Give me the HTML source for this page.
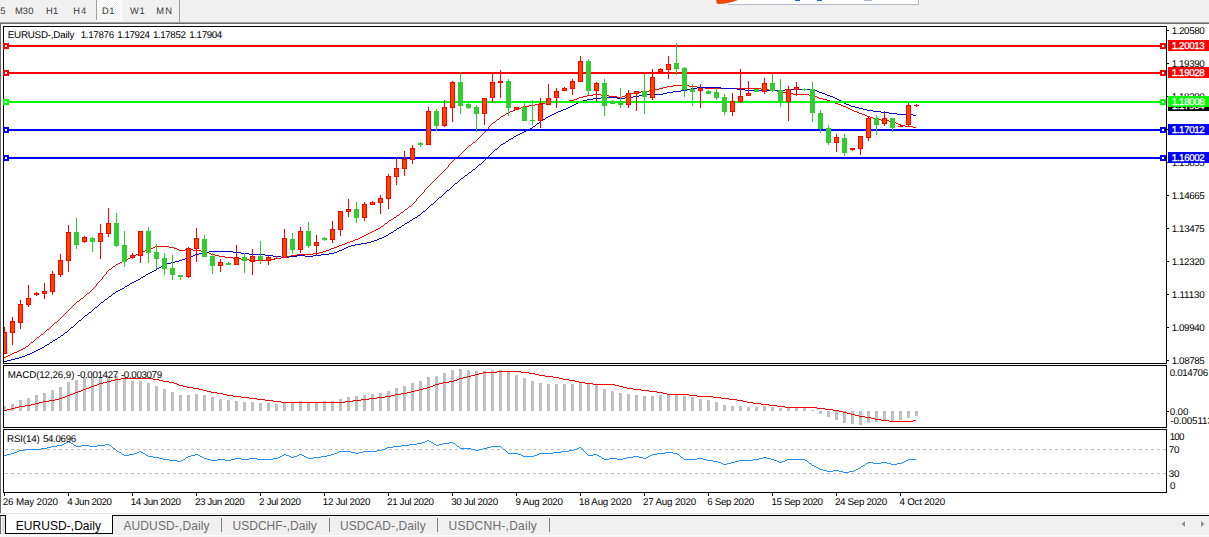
<!DOCTYPE html>
<html><head><meta charset="utf-8"><title>EURUSD Daily</title>
<style>
html,body{margin:0;padding:0;background:#f0f0f0;}
body{width:1209px;height:537px;overflow:hidden;position:relative;}
svg{position:absolute;left:0;top:0;display:block;}
text{font-family:"Liberation Sans",sans-serif;}
text.g{text-rendering:geometricPrecision;}
</style></head><body>
<svg width="1209" height="537" viewBox="0 0 1209 537" shape-rendering="crispEdges">
<rect x="0" y="0" width="1209" height="537" fill="#f0f0f0"/>
<rect x="0" y="22" width="1209" height="1" fill="#a0a0a0"/>
<rect x="0" y="23" width="1209" height="1" fill="#696969"/>
<rect x="1" y="24" width="1208" height="489" fill="#ffffff"/>
<rect x="0" y="23" width="1" height="490" fill="#696969"/>
<rect x="728" y="0" width="190" height="4" fill="#ffffff"/>
<rect x="728" y="4" width="191" height="1" fill="#b4bccc"/>
<rect x="918" y="0" width="1" height="5" fill="#b4bccc"/>
<path d="M716 0 L738 0 Q728 4 718 4 Q716 3 716 0 Z" fill="#f0480c" shape-rendering="auto"/>
<rect x="795" y="0" width="5" height="1" fill="#1e6fd6"/>
<rect x="817" y="0" width="5" height="1" fill="#1e6fd6"/>
<rect x="864" y="0" width="8" height="1" fill="#a8b8d8"/>
<pattern id="ck" x="97" y="0" width="2" height="2" patternUnits="userSpaceOnUse"><rect x="0" y="0" width="2" height="2" fill="#f0f0f0"/><rect x="0" y="0" width="1" height="1" fill="#fff"/><rect x="1" y="1" width="1" height="1" fill="#fff"/></pattern>
<rect x="96" y="0" width="1" height="20" fill="#a0a0a0"/>
<rect x="97" y="0" width="24" height="20" fill="url(#ck)"/>
<rect x="121" y="0" width="1" height="21" fill="#ffffff"/>
<rect x="96" y="20" width="26" height="1" fill="#ffffff"/>
<rect x="179" y="0" width="1" height="22" fill="#a0a0a0"/>
<clipPath id="cm"><rect x="4" y="27" width="1162" height="336"/></clipPath>
<g clip-path="url(#cm)">
<path d="M673 85h16v1h-16zM667 86h6v1h-6zM689 86h8v1h-8zM663 87h4v1h-4zM697 87h8v1h-8zM659 88h4v1h-4zM705 88h56v1h-56zM655 89h4v1h-4zM761 89h8v1h-8zM649 90h6v1h-6zM769 90h8v1h-8zM641 91h8v1h-8zM777 91h6v1h-6zM635 92h6v1h-6zM783 92h4v1h-4zM631 93h4v1h-4zM787 93h6v1h-6zM593 94h8v1h-8zM627 94h4v1h-4zM793 94h16v1h-16zM587 95h6v1h-6zM601 95h8v1h-8zM625 95h2v1h-2zM809 95h5v1h-5zM583 96h4v1h-4zM609 96h8v1h-8zM622 96h3v1h-3zM814 96h3v1h-3zM579 97h4v1h-4zM617 97h5v1h-5zM817 97h2v1h-2zM577 98h2v1h-2zM819 98h4v1h-4zM574 99h3v1h-3zM823 99h4v1h-4zM569 100h5v1h-5zM827 100h3v1h-3zM553 101h16v1h-16zM830 101h3v1h-3zM545 102h8v1h-8zM833 102h2v1h-2zM539 103h6v1h-6zM835 103h3v1h-3zM535 104h4v1h-4zM838 104h3v1h-3zM529 105h6v1h-6zM841 105h2v1h-2zM523 106h6v1h-6zM843 106h3v1h-3zM521 107h2v1h-2zM846 107h2v1h-2zM518 108h3v1h-3zM848 108h2v1h-2zM515 109h3v1h-3zM850 109h2v1h-2zM513 110h2v1h-2zM852 110h2v1h-2zM510 111h3v1h-3zM854 111h3v1h-3zM508 112h2v1h-2zM857 112h2v1h-2zM506 113h2v1h-2zM859 113h3v1h-3zM505 114h1v1h-1zM862 114h3v1h-3zM503 115h2v1h-2zM865 115h2v1h-2zM501 116h2v1h-2zM867 116h3v1h-3zM500 117h1v1h-1zM870 117h3v1h-3zM499 118h1v1h-1zM873 118h2v1h-2zM497 119h2v1h-2zM875 119h6v1h-6zM496 120h1v1h-1zM881 120h8v1h-8zM495 121h1v1h-1zM889 121h5v1h-5zM493 122h2v1h-2zM894 122h2v1h-2zM492 123h1v1h-1zM896 123h2v1h-2zM491 124h1v1h-1zM898 124h2v1h-2zM490 125h1v1h-1zM900 125h5v1h-5zM489 126h1v1h-1zM905 126h8v1h-8zM488 127h1v1h-1zM913 127h3v1h-3zM488 128h1v1h-1zM487 129h1v1h-1zM486 130h1v1h-1zM485 131h1v1h-1zM484 132h1v1h-1zM483 133h1v1h-1zM482 134h1v1h-1zM481 135h1v1h-1zM480 136h1v1h-1zM479 137h1v1h-1zM478 138h1v1h-1zM477 139h1v1h-1zM476 140h1v1h-1zM475 141h1v1h-1zM473 142h2v1h-2zM472 143h1v1h-1zM471 144h1v1h-1zM469 145h2v1h-2zM468 146h1v1h-1zM467 147h1v1h-1zM466 148h1v1h-1zM465 149h1v1h-1zM464 150h1v1h-1zM463 151h1v1h-1zM462 152h1v1h-1zM461 153h1v1h-1zM460 154h1v1h-1zM459 155h1v1h-1zM458 156h1v1h-1zM457 157h1v1h-1zM455 158h2v1h-2zM454 159h1v1h-1zM453 160h1v1h-1zM452 161h1v1h-1zM451 162h1v1h-1zM450 163h1v1h-1zM449 164h1v1h-1zM448 165h1v1h-1zM448 166h1v1h-1zM447 167h1v1h-1zM446 168h1v1h-1zM445 169h1v1h-1zM444 170h1v1h-1zM443 171h1v1h-1zM442 172h1v1h-1zM441 173h1v1h-1zM440 174h1v1h-1zM439 175h1v1h-1zM438 176h1v1h-1zM437 177h1v1h-1zM436 178h1v1h-1zM435 179h1v1h-1zM434 180h1v1h-1zM433 181h1v1h-1zM432 182h1v1h-1zM431 183h1v1h-1zM430 184h1v1h-1zM429 185h1v1h-1zM428 186h1v1h-1zM427 187h1v1h-1zM426 188h1v1h-1zM425 189h1v1h-1zM424 190h1v1h-1zM424 191h1v1h-1zM423 192h1v1h-1zM422 193h1v1h-1zM421 194h1v1h-1zM420 195h1v1h-1zM419 196h1v1h-1zM418 197h1v1h-1zM417 198h1v1h-1zM416 199h1v1h-1zM416 200h1v1h-1zM415 201h1v1h-1zM414 202h1v1h-1zM413 203h1v1h-1zM412 204h1v1h-1zM411 205h1v1h-1zM409 206h2v1h-2zM408 207h1v1h-1zM407 208h1v1h-1zM405 209h2v1h-2zM404 210h1v1h-1zM403 211h1v1h-1zM401 212h2v1h-2zM400 213h1v1h-1zM399 214h1v1h-1zM397 215h2v1h-2zM396 216h1v1h-1zM394 217h2v1h-2zM393 218h1v1h-1zM391 219h2v1h-2zM389 220h2v1h-2zM388 221h1v1h-1zM387 222h1v1h-1zM385 223h2v1h-2zM384 224h1v1h-1zM383 225h1v1h-1zM381 226h2v1h-2zM380 227h1v1h-1zM378 228h2v1h-2zM376 229h2v1h-2zM374 230h2v1h-2zM372 231h2v1h-2zM370 232h2v1h-2zM368 233h2v1h-2zM366 234h2v1h-2zM364 235h2v1h-2zM362 236h2v1h-2zM360 237h2v1h-2zM358 238h2v1h-2zM355 239h3v1h-3zM353 240h2v1h-2zM350 241h3v1h-3zM347 242h3v1h-3zM345 243h2v1h-2zM342 244h3v1h-3zM339 245h3v1h-3zM155 246h14v1h-14zM337 246h2v1h-2zM153 247h2v1h-2zM169 247h5v1h-5zM334 247h3v1h-3zM150 248h3v1h-3zM174 248h3v1h-3zM331 248h3v1h-3zM147 249h3v1h-3zM177 249h2v1h-2zM185 249h8v1h-8zM329 249h2v1h-2zM145 250h2v1h-2zM179 250h6v1h-6zM193 250h8v1h-8zM326 250h3v1h-3zM142 251h3v1h-3zM201 251h5v1h-5zM323 251h3v1h-3zM140 252h2v1h-2zM206 252h3v1h-3zM319 252h4v1h-4zM138 253h2v1h-2zM209 253h2v1h-2zM313 253h6v1h-6zM136 254h2v1h-2zM211 254h4v1h-4zM297 254h16v1h-16zM134 255h2v1h-2zM215 255h4v1h-4zM291 255h6v1h-6zM132 256h2v1h-2zM219 256h6v1h-6zM287 256h4v1h-4zM130 257h2v1h-2zM225 257h8v1h-8zM281 257h6v1h-6zM128 258h2v1h-2zM233 258h8v1h-8zM275 258h6v1h-6zM126 259h2v1h-2zM241 259h8v1h-8zM271 259h4v1h-4zM124 260h2v1h-2zM249 260h22v1h-22zM122 261h2v1h-2zM120 262h2v1h-2zM118 263h2v1h-2zM116 264h2v1h-2zM115 265h1v1h-1zM113 266h2v1h-2zM112 267h1v1h-1zM111 268h1v1h-1zM109 269h2v1h-2zM108 270h1v1h-1zM107 271h1v1h-1zM106 272h1v1h-1zM106 273h1v1h-1zM105 274h1v1h-1zM104 275h1v1h-1zM103 276h1v1h-1zM102 277h1v1h-1zM102 278h1v1h-1zM101 279h1v1h-1zM100 280h1v1h-1zM99 281h1v1h-1zM98 282h1v1h-1zM97 283h1v1h-1zM96 284h1v1h-1zM96 285h1v1h-1zM95 286h1v1h-1zM94 287h1v1h-1zM93 288h1v1h-1zM92 289h1v1h-1zM91 290h1v1h-1zM90 291h1v1h-1zM89 292h1v1h-1zM87 293h2v1h-2zM86 294h1v1h-1zM85 295h1v1h-1zM84 296h1v1h-1zM83 297h1v1h-1zM81 298h2v1h-2zM80 299h1v1h-1zM79 300h1v1h-1zM77 301h2v1h-2zM76 302h1v1h-1zM75 303h1v1h-1zM74 304h1v1h-1zM73 305h1v1h-1zM72 306h1v1h-1zM71 307h1v1h-1zM70 308h1v1h-1zM69 309h1v1h-1zM68 310h1v1h-1zM67 311h1v1h-1zM66 312h1v1h-1zM65 313h1v1h-1zM64 314h1v1h-1zM63 315h1v1h-1zM62 316h1v1h-1zM61 317h1v1h-1zM60 318h1v1h-1zM59 319h1v1h-1zM58 320h1v1h-1zM57 321h1v1h-1zM55 322h2v1h-2zM54 323h1v1h-1zM53 324h1v1h-1zM52 325h1v1h-1zM51 326h1v1h-1zM50 327h1v1h-1zM49 328h1v1h-1zM47 329h2v1h-2zM46 330h1v1h-1zM45 331h1v1h-1zM44 332h1v1h-1zM43 333h1v1h-1zM41 334h2v1h-2zM40 335h1v1h-1zM39 336h1v1h-1zM37 337h2v1h-2zM36 338h1v1h-1zM35 339h1v1h-1zM34 340h1v1h-1zM33 341h1v1h-1zM31 342h2v1h-2zM30 343h1v1h-1zM29 344h1v1h-1zM28 345h1v1h-1zM26 346h2v1h-2zM25 347h1v1h-1zM23 348h2v1h-2zM21 349h2v1h-2zM19 350h2v1h-2zM17 351h2v1h-2zM14 352h3v1h-3zM12 353h2v1h-2zM10 354h2v1h-2zM8 355h2v1h-2zM6 356h2v1h-2zM4 357h2v1h-2z" fill="#ff0000" />
<path d="M697 87h24v1h-24zM691 88h6v1h-6zM721 88h16v1h-16zM687 89h4v1h-4zM737 89h8v1h-8zM785 89h29v1h-29zM681 90h6v1h-6zM745 90h40v1h-40zM814 90h3v1h-3zM673 91h8v1h-8zM817 91h2v1h-2zM667 92h6v1h-6zM819 92h3v1h-3zM663 93h4v1h-4zM822 93h3v1h-3zM643 94h20v1h-20zM825 94h2v1h-2zM639 95h4v1h-4zM827 95h3v1h-3zM633 96h6v1h-6zM830 96h3v1h-3zM601 97h16v1h-16zM625 97h8v1h-8zM833 97h2v1h-2zM593 98h8v1h-8zM617 98h8v1h-8zM835 98h2v1h-2zM587 99h6v1h-6zM837 99h2v1h-2zM583 100h4v1h-4zM839 100h2v1h-2zM580 101h3v1h-3zM841 101h1v1h-1zM578 102h2v1h-2zM842 102h2v1h-2zM576 103h2v1h-2zM844 103h2v1h-2zM574 104h2v1h-2zM846 104h3v1h-3zM572 105h2v1h-2zM849 105h2v1h-2zM570 106h2v1h-2zM851 106h4v1h-4zM568 107h2v1h-2zM855 107h4v1h-4zM566 108h2v1h-2zM859 108h4v1h-4zM563 109h3v1h-3zM863 109h4v1h-4zM561 110h2v1h-2zM867 110h6v1h-6zM558 111h3v1h-3zM873 111h8v1h-8zM556 112h2v1h-2zM881 112h8v1h-8zM554 113h2v1h-2zM889 113h8v1h-8zM552 114h2v1h-2zM897 114h16v1h-16zM550 115h2v1h-2zM913 115h3v1h-3zM548 116h2v1h-2zM546 117h2v1h-2zM545 118h1v1h-1zM543 119h2v1h-2zM541 120h2v1h-2zM540 121h1v1h-1zM539 122h1v1h-1zM537 123h2v1h-2zM536 124h1v1h-1zM535 125h1v1h-1zM533 126h2v1h-2zM532 127h1v1h-1zM530 128h2v1h-2zM528 129h2v1h-2zM526 130h2v1h-2zM524 131h2v1h-2zM522 132h2v1h-2zM520 133h2v1h-2zM518 134h2v1h-2zM516 135h2v1h-2zM514 136h2v1h-2zM513 137h1v1h-1zM511 138h2v1h-2zM509 139h2v1h-2zM508 140h1v1h-1zM506 141h2v1h-2zM505 142h1v1h-1zM503 143h2v1h-2zM501 144h2v1h-2zM500 145h1v1h-1zM499 146h1v1h-1zM498 147h1v1h-1zM497 148h1v1h-1zM495 149h2v1h-2zM494 150h1v1h-1zM493 151h1v1h-1zM492 152h1v1h-1zM491 153h1v1h-1zM490 154h1v1h-1zM489 155h1v1h-1zM488 156h1v1h-1zM487 157h1v1h-1zM486 158h1v1h-1zM485 159h1v1h-1zM484 160h1v1h-1zM483 161h1v1h-1zM482 162h1v1h-1zM481 163h1v1h-1zM479 164h2v1h-2zM478 165h1v1h-1zM477 166h1v1h-1zM476 167h1v1h-1zM475 168h1v1h-1zM473 169h2v1h-2zM472 170h1v1h-1zM471 171h1v1h-1zM469 172h2v1h-2zM468 173h1v1h-1zM467 174h1v1h-1zM465 175h2v1h-2zM464 176h1v1h-1zM463 177h1v1h-1zM461 178h2v1h-2zM460 179h1v1h-1zM459 180h1v1h-1zM458 181h1v1h-1zM457 182h1v1h-1zM455 183h2v1h-2zM454 184h1v1h-1zM453 185h1v1h-1zM452 186h1v1h-1zM451 187h1v1h-1zM450 188h1v1h-1zM449 189h1v1h-1zM447 190h2v1h-2zM446 191h1v1h-1zM445 192h1v1h-1zM444 193h1v1h-1zM443 194h1v1h-1zM442 195h1v1h-1zM441 196h1v1h-1zM439 197h2v1h-2zM438 198h1v1h-1zM437 199h1v1h-1zM436 200h1v1h-1zM435 201h1v1h-1zM434 202h1v1h-1zM433 203h1v1h-1zM431 204h2v1h-2zM430 205h1v1h-1zM429 206h1v1h-1zM428 207h1v1h-1zM427 208h1v1h-1zM426 209h1v1h-1zM425 210h1v1h-1zM423 211h2v1h-2zM422 212h1v1h-1zM421 213h1v1h-1zM420 214h1v1h-1zM418 215h2v1h-2zM417 216h1v1h-1zM415 217h2v1h-2zM413 218h2v1h-2zM412 219h1v1h-1zM410 220h2v1h-2zM409 221h1v1h-1zM407 222h2v1h-2zM405 223h2v1h-2zM404 224h1v1h-1zM402 225h2v1h-2zM401 226h1v1h-1zM399 227h2v1h-2zM397 228h2v1h-2zM396 229h1v1h-1zM394 230h2v1h-2zM393 231h1v1h-1zM391 232h2v1h-2zM389 233h2v1h-2zM388 234h1v1h-1zM386 235h2v1h-2zM384 236h2v1h-2zM382 237h2v1h-2zM379 238h3v1h-3zM377 239h2v1h-2zM374 240h3v1h-3zM371 241h3v1h-3zM367 242h4v1h-4zM361 243h6v1h-6zM355 244h6v1h-6zM351 245h4v1h-4zM348 246h3v1h-3zM346 247h2v1h-2zM344 248h2v1h-2zM342 249h2v1h-2zM339 250h3v1h-3zM209 251h24v1h-24zM337 251h2v1h-2zM203 252h6v1h-6zM233 252h8v1h-8zM334 252h3v1h-3zM199 253h4v1h-4zM241 253h8v1h-8zM329 253h5v1h-5zM195 254h4v1h-4zM249 254h16v1h-16zM321 254h8v1h-8zM193 255h2v1h-2zM265 255h8v1h-8zM297 255h8v1h-8zM313 255h8v1h-8zM190 256h3v1h-3zM273 256h8v1h-8zM289 256h8v1h-8zM305 256h8v1h-8zM187 257h3v1h-3zM281 257h8v1h-8zM185 258h2v1h-2zM182 259h3v1h-3zM179 260h3v1h-3zM175 261h4v1h-4zM171 262h4v1h-4zM167 263h4v1h-4zM164 264h3v1h-3zM162 265h2v1h-2zM161 266h1v1h-1zM159 267h2v1h-2zM157 268h2v1h-2zM156 269h1v1h-1zM154 270h2v1h-2zM152 271h2v1h-2zM150 272h2v1h-2zM148 273h2v1h-2zM146 274h2v1h-2zM145 275h1v1h-1zM143 276h2v1h-2zM141 277h2v1h-2zM140 278h1v1h-1zM138 279h2v1h-2zM136 280h2v1h-2zM134 281h2v1h-2zM132 282h2v1h-2zM130 283h2v1h-2zM129 284h1v1h-1zM127 285h2v1h-2zM125 286h2v1h-2zM124 287h1v1h-1zM122 288h2v1h-2zM120 289h2v1h-2zM118 290h2v1h-2zM116 291h2v1h-2zM115 292h1v1h-1zM113 293h2v1h-2zM112 294h1v1h-1zM111 295h1v1h-1zM109 296h2v1h-2zM108 297h1v1h-1zM107 298h1v1h-1zM105 299h2v1h-2zM104 300h1v1h-1zM103 301h1v1h-1zM101 302h2v1h-2zM100 303h1v1h-1zM99 304h1v1h-1zM98 305h1v1h-1zM97 306h1v1h-1zM95 307h2v1h-2zM94 308h1v1h-1zM93 309h1v1h-1zM92 310h1v1h-1zM91 311h1v1h-1zM89 312h2v1h-2zM88 313h1v1h-1zM87 314h1v1h-1zM85 315h2v1h-2zM84 316h1v1h-1zM83 317h1v1h-1zM82 318h1v1h-1zM81 319h1v1h-1zM79 320h2v1h-2zM78 321h1v1h-1zM77 322h1v1h-1zM76 323h1v1h-1zM75 324h1v1h-1zM74 325h1v1h-1zM73 326h1v1h-1zM71 327h2v1h-2zM70 328h1v1h-1zM69 329h1v1h-1zM68 330h1v1h-1zM67 331h1v1h-1zM65 332h2v1h-2zM64 333h1v1h-1zM63 334h1v1h-1zM61 335h2v1h-2zM60 336h1v1h-1zM58 337h2v1h-2zM57 338h1v1h-1zM55 339h2v1h-2zM53 340h2v1h-2zM52 341h1v1h-1zM50 342h2v1h-2zM49 343h1v1h-1zM47 344h2v1h-2zM45 345h2v1h-2zM44 346h1v1h-1zM42 347h2v1h-2zM40 348h2v1h-2zM38 349h2v1h-2zM36 350h2v1h-2zM34 351h2v1h-2zM32 352h2v1h-2zM30 353h2v1h-2zM27 354h3v1h-3zM25 355h2v1h-2zM22 356h3v1h-3zM19 357h3v1h-3zM15 358h4v1h-4zM11 359h4v1h-4zM7 360h4v1h-4zM4 361h3v1h-3z" fill="#0000cd" />
<rect x="3" y="45" width="1163" height="2" fill="#ff0000"/>
<rect x="3" y="72" width="1163" height="2" fill="#ff0000"/>
<rect x="3" y="101" width="1163" height="2" fill="#00ff00"/>
<rect x="3" y="129" width="1163" height="2" fill="#0000ff"/>
<rect x="3" y="157" width="1163" height="2" fill="#0000ff"/>
<rect x="4" y="327" width="1" height="27" fill="#ff0000"/>
<rect x="2" y="332" width="5" height="22" fill="#ff0000"/>
<rect x="3" y="333" width="3" height="20" fill="#ff4500"/>
<rect x="12" y="317" width="1" height="28" fill="#ff0000"/>
<rect x="10" y="321" width="5" height="12" fill="#ff0000"/>
<rect x="11" y="322" width="3" height="10" fill="#ff4500"/>
<rect x="20" y="300" width="1" height="29" fill="#ff0000"/>
<rect x="18" y="304" width="5" height="19" fill="#ff0000"/>
<rect x="19" y="305" width="3" height="17" fill="#ff4500"/>
<rect x="28" y="285" width="1" height="22" fill="#ff0000"/>
<rect x="26" y="298" width="5" height="7" fill="#ff0000"/>
<rect x="27" y="299" width="3" height="5" fill="#ff4500"/>
<rect x="36" y="292" width="1" height="4" fill="#ff0000"/>
<rect x="34" y="293" width="5" height="2" fill="#ff0000"/>
<rect x="44" y="283" width="1" height="16" fill="#ff0000"/>
<rect x="42" y="291" width="5" height="3" fill="#ff0000"/>
<rect x="43" y="292" width="3" height="1" fill="#ff4500"/>
<rect x="52" y="271" width="1" height="24" fill="#ff0000"/>
<rect x="50" y="274" width="5" height="18" fill="#ff0000"/>
<rect x="51" y="275" width="3" height="16" fill="#ff4500"/>
<rect x="60" y="254" width="1" height="23" fill="#ff0000"/>
<rect x="58" y="260" width="5" height="15" fill="#ff0000"/>
<rect x="59" y="261" width="3" height="13" fill="#ff4500"/>
<rect x="68" y="225" width="1" height="47" fill="#ff0000"/>
<rect x="66" y="232" width="5" height="29" fill="#ff0000"/>
<rect x="67" y="233" width="3" height="27" fill="#ff4500"/>
<rect x="76" y="218" width="1" height="31" fill="#32cd32"/>
<rect x="74" y="232" width="5" height="13" fill="#32cd32"/>
<rect x="75" y="233" width="3" height="11" fill="#32cd32"/>
<rect x="84" y="236" width="1" height="7" fill="#ff0000"/>
<rect x="82" y="237" width="5" height="5" fill="#ff0000"/>
<rect x="83" y="238" width="3" height="3" fill="#ff4500"/>
<rect x="92" y="237" width="1" height="15" fill="#32cd32"/>
<rect x="90" y="238" width="5" height="4" fill="#32cd32"/>
<rect x="91" y="239" width="3" height="2" fill="#32cd32"/>
<rect x="100" y="224" width="1" height="35" fill="#ff0000"/>
<rect x="98" y="233" width="5" height="9" fill="#ff0000"/>
<rect x="99" y="234" width="3" height="7" fill="#ff4500"/>
<rect x="108" y="208" width="1" height="29" fill="#ff0000"/>
<rect x="106" y="223" width="5" height="11" fill="#ff0000"/>
<rect x="107" y="224" width="3" height="9" fill="#ff4500"/>
<rect x="116" y="213" width="1" height="34" fill="#32cd32"/>
<rect x="114" y="223" width="5" height="23" fill="#32cd32"/>
<rect x="115" y="224" width="3" height="21" fill="#32cd32"/>
<rect x="124" y="231" width="1" height="36" fill="#32cd32"/>
<rect x="122" y="245" width="5" height="17" fill="#32cd32"/>
<rect x="123" y="246" width="3" height="15" fill="#32cd32"/>
<rect x="132" y="253" width="1" height="6" fill="#ff0000"/>
<rect x="130" y="255" width="5" height="3" fill="#ff0000"/>
<rect x="131" y="256" width="3" height="1" fill="#ff4500"/>
<rect x="140" y="231" width="1" height="32" fill="#ff0000"/>
<rect x="138" y="231" width="5" height="25" fill="#ff0000"/>
<rect x="139" y="232" width="3" height="23" fill="#ff4500"/>
<rect x="148" y="227" width="1" height="36" fill="#32cd32"/>
<rect x="146" y="231" width="5" height="22" fill="#32cd32"/>
<rect x="147" y="232" width="3" height="20" fill="#32cd32"/>
<rect x="156" y="244" width="1" height="25" fill="#32cd32"/>
<rect x="154" y="252" width="5" height="7" fill="#32cd32"/>
<rect x="155" y="253" width="3" height="5" fill="#32cd32"/>
<rect x="164" y="253" width="1" height="22" fill="#32cd32"/>
<rect x="162" y="258" width="5" height="11" fill="#32cd32"/>
<rect x="163" y="259" width="3" height="9" fill="#32cd32"/>
<rect x="172" y="255" width="1" height="25" fill="#32cd32"/>
<rect x="170" y="268" width="5" height="7" fill="#32cd32"/>
<rect x="171" y="269" width="3" height="5" fill="#32cd32"/>
<rect x="180" y="275" width="1" height="5" fill="#32cd32"/>
<rect x="178" y="275" width="5" height="2" fill="#32cd32"/>
<rect x="188" y="247" width="1" height="31" fill="#ff0000"/>
<rect x="186" y="248" width="5" height="29" fill="#ff0000"/>
<rect x="187" y="249" width="3" height="27" fill="#ff4500"/>
<rect x="196" y="228" width="1" height="34" fill="#ff0000"/>
<rect x="194" y="238" width="5" height="11" fill="#ff0000"/>
<rect x="195" y="239" width="3" height="9" fill="#ff4500"/>
<rect x="204" y="235" width="1" height="22" fill="#32cd32"/>
<rect x="202" y="239" width="5" height="18" fill="#32cd32"/>
<rect x="203" y="240" width="3" height="16" fill="#32cd32"/>
<rect x="212" y="253" width="1" height="21" fill="#32cd32"/>
<rect x="210" y="256" width="5" height="10" fill="#32cd32"/>
<rect x="211" y="257" width="3" height="8" fill="#32cd32"/>
<rect x="220" y="259" width="1" height="13" fill="#ff0000"/>
<rect x="218" y="262" width="5" height="4" fill="#ff0000"/>
<rect x="219" y="263" width="3" height="2" fill="#ff4500"/>
<rect x="228" y="262" width="1" height="3" fill="#32cd32"/>
<rect x="226" y="263" width="5" height="2" fill="#32cd32"/>
<rect x="236" y="245" width="1" height="20" fill="#ff0000"/>
<rect x="234" y="257" width="5" height="8" fill="#ff0000"/>
<rect x="235" y="258" width="3" height="6" fill="#ff4500"/>
<rect x="244" y="253" width="1" height="20" fill="#32cd32"/>
<rect x="242" y="257" width="5" height="4" fill="#32cd32"/>
<rect x="243" y="258" width="3" height="2" fill="#32cd32"/>
<rect x="252" y="249" width="1" height="26" fill="#ff0000"/>
<rect x="250" y="256" width="5" height="6" fill="#ff0000"/>
<rect x="251" y="257" width="3" height="4" fill="#ff4500"/>
<rect x="260" y="241" width="1" height="23" fill="#32cd32"/>
<rect x="258" y="256" width="5" height="4" fill="#32cd32"/>
<rect x="259" y="257" width="3" height="2" fill="#32cd32"/>
<rect x="268" y="256" width="1" height="9" fill="#ff0000"/>
<rect x="266" y="257" width="5" height="4" fill="#ff0000"/>
<rect x="267" y="258" width="3" height="2" fill="#ff4500"/>
<rect x="276" y="256" width="1" height="3" fill="#ff0000"/>
<rect x="274" y="258" width="5" height="1" fill="#ff0000"/>
<rect x="284" y="229" width="1" height="29" fill="#ff0000"/>
<rect x="282" y="238" width="5" height="20" fill="#ff0000"/>
<rect x="283" y="239" width="3" height="18" fill="#ff4500"/>
<rect x="292" y="233" width="1" height="21" fill="#32cd32"/>
<rect x="290" y="239" width="5" height="11" fill="#32cd32"/>
<rect x="291" y="240" width="3" height="9" fill="#32cd32"/>
<rect x="300" y="227" width="1" height="26" fill="#ff0000"/>
<rect x="298" y="231" width="5" height="19" fill="#ff0000"/>
<rect x="299" y="232" width="3" height="17" fill="#ff4500"/>
<rect x="308" y="222" width="1" height="26" fill="#32cd32"/>
<rect x="306" y="231" width="5" height="15" fill="#32cd32"/>
<rect x="307" y="232" width="3" height="13" fill="#32cd32"/>
<rect x="316" y="235" width="1" height="21" fill="#ff0000"/>
<rect x="314" y="242" width="5" height="4" fill="#ff0000"/>
<rect x="315" y="243" width="3" height="2" fill="#ff4500"/>
<rect x="324" y="237" width="1" height="4" fill="#32cd32"/>
<rect x="322" y="238" width="5" height="2" fill="#32cd32"/>
<rect x="332" y="221" width="1" height="22" fill="#ff0000"/>
<rect x="330" y="229" width="5" height="11" fill="#ff0000"/>
<rect x="331" y="230" width="3" height="9" fill="#ff4500"/>
<rect x="340" y="211" width="1" height="25" fill="#ff0000"/>
<rect x="338" y="211" width="5" height="19" fill="#ff0000"/>
<rect x="339" y="212" width="3" height="17" fill="#ff4500"/>
<rect x="348" y="199" width="1" height="18" fill="#ff0000"/>
<rect x="346" y="209" width="5" height="3" fill="#ff0000"/>
<rect x="347" y="210" width="3" height="1" fill="#ff4500"/>
<rect x="356" y="202" width="1" height="21" fill="#32cd32"/>
<rect x="354" y="209" width="5" height="9" fill="#32cd32"/>
<rect x="355" y="210" width="3" height="7" fill="#32cd32"/>
<rect x="364" y="202" width="1" height="19" fill="#ff0000"/>
<rect x="362" y="204" width="5" height="14" fill="#ff0000"/>
<rect x="363" y="205" width="3" height="12" fill="#ff4500"/>
<rect x="372" y="201" width="1" height="4" fill="#ff0000"/>
<rect x="370" y="202" width="5" height="3" fill="#ff0000"/>
<rect x="371" y="203" width="3" height="1" fill="#ff4500"/>
<rect x="380" y="195" width="1" height="19" fill="#ff0000"/>
<rect x="378" y="198" width="5" height="5" fill="#ff0000"/>
<rect x="379" y="199" width="3" height="3" fill="#ff4500"/>
<rect x="388" y="174" width="1" height="35" fill="#ff0000"/>
<rect x="386" y="176" width="5" height="23" fill="#ff0000"/>
<rect x="387" y="177" width="3" height="21" fill="#ff4500"/>
<rect x="396" y="158" width="1" height="27" fill="#ff0000"/>
<rect x="394" y="168" width="5" height="9" fill="#ff0000"/>
<rect x="395" y="169" width="3" height="7" fill="#ff4500"/>
<rect x="404" y="151" width="1" height="25" fill="#ff0000"/>
<rect x="402" y="159" width="5" height="10" fill="#ff0000"/>
<rect x="403" y="160" width="3" height="8" fill="#ff4500"/>
<rect x="412" y="145" width="1" height="19" fill="#ff0000"/>
<rect x="410" y="148" width="5" height="12" fill="#ff0000"/>
<rect x="411" y="149" width="3" height="10" fill="#ff4500"/>
<rect x="420" y="142" width="1" height="5" fill="#32cd32"/>
<rect x="418" y="143" width="5" height="2" fill="#32cd32"/>
<rect x="428" y="107" width="1" height="38" fill="#ff0000"/>
<rect x="426" y="111" width="5" height="34" fill="#ff0000"/>
<rect x="427" y="112" width="3" height="32" fill="#ff4500"/>
<rect x="436" y="109" width="1" height="22" fill="#32cd32"/>
<rect x="434" y="111" width="5" height="15" fill="#32cd32"/>
<rect x="435" y="112" width="3" height="13" fill="#32cd32"/>
<rect x="444" y="100" width="1" height="27" fill="#ff0000"/>
<rect x="442" y="107" width="5" height="19" fill="#ff0000"/>
<rect x="443" y="108" width="3" height="17" fill="#ff4500"/>
<rect x="452" y="81" width="1" height="41" fill="#ff0000"/>
<rect x="450" y="82" width="5" height="26" fill="#ff0000"/>
<rect x="451" y="83" width="3" height="24" fill="#ff4500"/>
<rect x="460" y="72" width="1" height="42" fill="#32cd32"/>
<rect x="458" y="82" width="5" height="24" fill="#32cd32"/>
<rect x="459" y="83" width="3" height="22" fill="#32cd32"/>
<rect x="468" y="103" width="1" height="6" fill="#32cd32"/>
<rect x="466" y="104" width="5" height="4" fill="#32cd32"/>
<rect x="467" y="105" width="3" height="2" fill="#32cd32"/>
<rect x="476" y="105" width="1" height="27" fill="#32cd32"/>
<rect x="474" y="107" width="5" height="7" fill="#32cd32"/>
<rect x="475" y="108" width="3" height="5" fill="#32cd32"/>
<rect x="484" y="98" width="1" height="27" fill="#ff0000"/>
<rect x="482" y="98" width="5" height="16" fill="#ff0000"/>
<rect x="483" y="99" width="3" height="14" fill="#ff4500"/>
<rect x="492" y="73" width="1" height="30" fill="#ff0000"/>
<rect x="490" y="82" width="5" height="16" fill="#ff0000"/>
<rect x="491" y="83" width="3" height="14" fill="#ff4500"/>
<rect x="500" y="70" width="1" height="28" fill="#ff0000"/>
<rect x="498" y="81" width="5" height="2" fill="#ff0000"/>
<rect x="508" y="79" width="1" height="37" fill="#32cd32"/>
<rect x="506" y="81" width="5" height="27" fill="#32cd32"/>
<rect x="507" y="82" width="3" height="25" fill="#32cd32"/>
<rect x="516" y="107" width="1" height="3" fill="#ff0000"/>
<rect x="514" y="107" width="5" height="3" fill="#ff0000"/>
<rect x="515" y="108" width="3" height="1" fill="#ff4500"/>
<rect x="524" y="102" width="1" height="19" fill="#32cd32"/>
<rect x="522" y="107" width="5" height="14" fill="#32cd32"/>
<rect x="523" y="108" width="3" height="12" fill="#32cd32"/>
<rect x="532" y="100" width="1" height="25" fill="#32cd32"/>
<rect x="530" y="120" width="5" height="1" fill="#32cd32"/>
<rect x="540" y="98" width="1" height="30" fill="#ff0000"/>
<rect x="538" y="104" width="5" height="17" fill="#ff0000"/>
<rect x="539" y="105" width="3" height="15" fill="#ff4500"/>
<rect x="548" y="84" width="1" height="21" fill="#ff0000"/>
<rect x="546" y="98" width="5" height="7" fill="#ff0000"/>
<rect x="547" y="99" width="3" height="5" fill="#ff4500"/>
<rect x="556" y="88" width="1" height="20" fill="#ff0000"/>
<rect x="554" y="91" width="5" height="7" fill="#ff0000"/>
<rect x="555" y="92" width="3" height="5" fill="#ff4500"/>
<rect x="564" y="87" width="1" height="4" fill="#ff0000"/>
<rect x="562" y="88" width="5" height="3" fill="#ff0000"/>
<rect x="563" y="89" width="3" height="1" fill="#ff4500"/>
<rect x="572" y="79" width="1" height="16" fill="#ff0000"/>
<rect x="570" y="81" width="5" height="8" fill="#ff0000"/>
<rect x="571" y="82" width="3" height="6" fill="#ff4500"/>
<rect x="580" y="56" width="1" height="26" fill="#ff0000"/>
<rect x="578" y="61" width="5" height="21" fill="#ff0000"/>
<rect x="579" y="62" width="3" height="19" fill="#ff4500"/>
<rect x="588" y="59" width="1" height="36" fill="#32cd32"/>
<rect x="586" y="61" width="5" height="30" fill="#32cd32"/>
<rect x="587" y="62" width="3" height="28" fill="#32cd32"/>
<rect x="596" y="82" width="1" height="20" fill="#ff0000"/>
<rect x="594" y="83" width="5" height="8" fill="#ff0000"/>
<rect x="595" y="84" width="3" height="6" fill="#ff4500"/>
<rect x="604" y="79" width="1" height="37" fill="#32cd32"/>
<rect x="602" y="83" width="5" height="23" fill="#32cd32"/>
<rect x="603" y="84" width="3" height="21" fill="#32cd32"/>
<rect x="612" y="100" width="1" height="4" fill="#32cd32"/>
<rect x="610" y="101" width="5" height="3" fill="#32cd32"/>
<rect x="611" y="102" width="3" height="1" fill="#32cd32"/>
<rect x="620" y="88" width="1" height="20" fill="#32cd32"/>
<rect x="618" y="102" width="5" height="3" fill="#32cd32"/>
<rect x="619" y="103" width="3" height="1" fill="#32cd32"/>
<rect x="628" y="90" width="1" height="18" fill="#ff0000"/>
<rect x="626" y="93" width="5" height="12" fill="#ff0000"/>
<rect x="627" y="94" width="3" height="10" fill="#ff4500"/>
<rect x="636" y="91" width="1" height="20" fill="#ff0000"/>
<rect x="634" y="91" width="5" height="3" fill="#ff0000"/>
<rect x="635" y="92" width="3" height="1" fill="#ff4500"/>
<rect x="644" y="74" width="1" height="40" fill="#32cd32"/>
<rect x="642" y="91" width="5" height="6" fill="#32cd32"/>
<rect x="643" y="92" width="3" height="4" fill="#32cd32"/>
<rect x="652" y="69" width="1" height="31" fill="#ff0000"/>
<rect x="650" y="77" width="5" height="21" fill="#ff0000"/>
<rect x="651" y="78" width="3" height="19" fill="#ff4500"/>
<rect x="660" y="68" width="1" height="5" fill="#ff0000"/>
<rect x="658" y="69" width="5" height="3" fill="#ff0000"/>
<rect x="659" y="70" width="3" height="1" fill="#ff4500"/>
<rect x="668" y="56" width="1" height="23" fill="#ff0000"/>
<rect x="666" y="64" width="5" height="6" fill="#ff0000"/>
<rect x="667" y="65" width="3" height="4" fill="#ff4500"/>
<rect x="676" y="43" width="1" height="32" fill="#32cd32"/>
<rect x="674" y="63" width="5" height="6" fill="#32cd32"/>
<rect x="675" y="64" width="3" height="4" fill="#32cd32"/>
<rect x="684" y="67" width="1" height="30" fill="#32cd32"/>
<rect x="682" y="68" width="5" height="22" fill="#32cd32"/>
<rect x="683" y="69" width="3" height="20" fill="#32cd32"/>
<rect x="692" y="84" width="1" height="22" fill="#32cd32"/>
<rect x="690" y="89" width="5" height="3" fill="#32cd32"/>
<rect x="691" y="90" width="3" height="1" fill="#32cd32"/>
<rect x="700" y="84" width="1" height="24" fill="#ff0000"/>
<rect x="698" y="88" width="5" height="3" fill="#ff0000"/>
<rect x="699" y="89" width="3" height="1" fill="#ff4500"/>
<rect x="708" y="90" width="1" height="4" fill="#32cd32"/>
<rect x="706" y="91" width="5" height="3" fill="#32cd32"/>
<rect x="707" y="92" width="3" height="1" fill="#32cd32"/>
<rect x="716" y="88" width="1" height="12" fill="#32cd32"/>
<rect x="714" y="92" width="5" height="6" fill="#32cd32"/>
<rect x="715" y="93" width="3" height="4" fill="#32cd32"/>
<rect x="724" y="94" width="1" height="21" fill="#32cd32"/>
<rect x="722" y="97" width="5" height="15" fill="#32cd32"/>
<rect x="723" y="98" width="3" height="13" fill="#32cd32"/>
<rect x="732" y="93" width="1" height="23" fill="#ff0000"/>
<rect x="730" y="101" width="5" height="11" fill="#ff0000"/>
<rect x="731" y="102" width="3" height="9" fill="#ff4500"/>
<rect x="740" y="69" width="1" height="34" fill="#ff0000"/>
<rect x="738" y="96" width="5" height="6" fill="#ff0000"/>
<rect x="739" y="97" width="3" height="4" fill="#ff4500"/>
<rect x="748" y="81" width="1" height="15" fill="#ff0000"/>
<rect x="746" y="93" width="5" height="3" fill="#ff0000"/>
<rect x="747" y="94" width="3" height="1" fill="#ff4500"/>
<rect x="756" y="89" width="1" height="3" fill="#32cd32"/>
<rect x="754" y="89" width="5" height="3" fill="#32cd32"/>
<rect x="755" y="90" width="3" height="1" fill="#32cd32"/>
<rect x="764" y="78" width="1" height="16" fill="#ff0000"/>
<rect x="762" y="83" width="5" height="9" fill="#ff0000"/>
<rect x="763" y="84" width="3" height="7" fill="#ff4500"/>
<rect x="772" y="74" width="1" height="18" fill="#32cd32"/>
<rect x="770" y="83" width="5" height="8" fill="#32cd32"/>
<rect x="771" y="84" width="3" height="6" fill="#32cd32"/>
<rect x="780" y="79" width="1" height="28" fill="#32cd32"/>
<rect x="778" y="90" width="5" height="12" fill="#32cd32"/>
<rect x="779" y="91" width="3" height="10" fill="#32cd32"/>
<rect x="788" y="86" width="1" height="35" fill="#ff0000"/>
<rect x="786" y="89" width="5" height="13" fill="#ff0000"/>
<rect x="787" y="90" width="3" height="11" fill="#ff4500"/>
<rect x="796" y="82" width="1" height="14" fill="#ff0000"/>
<rect x="794" y="87" width="5" height="3" fill="#ff0000"/>
<rect x="795" y="88" width="3" height="1" fill="#ff4500"/>
<rect x="804" y="88" width="1" height="3" fill="#32cd32"/>
<rect x="802" y="89" width="5" height="1" fill="#32cd32"/>
<rect x="812" y="82" width="1" height="40" fill="#32cd32"/>
<rect x="810" y="89" width="5" height="24" fill="#32cd32"/>
<rect x="811" y="90" width="3" height="22" fill="#32cd32"/>
<rect x="820" y="110" width="1" height="23" fill="#32cd32"/>
<rect x="818" y="113" width="5" height="16" fill="#32cd32"/>
<rect x="819" y="114" width="3" height="14" fill="#32cd32"/>
<rect x="828" y="125" width="1" height="20" fill="#32cd32"/>
<rect x="826" y="128" width="5" height="15" fill="#32cd32"/>
<rect x="827" y="129" width="3" height="13" fill="#32cd32"/>
<rect x="836" y="134" width="1" height="18" fill="#ff0000"/>
<rect x="834" y="137" width="5" height="6" fill="#ff0000"/>
<rect x="835" y="138" width="3" height="4" fill="#ff4500"/>
<rect x="844" y="134" width="1" height="22" fill="#32cd32"/>
<rect x="842" y="138" width="5" height="15" fill="#32cd32"/>
<rect x="843" y="139" width="3" height="13" fill="#32cd32"/>
<rect x="852" y="148" width="1" height="3" fill="#ff0000"/>
<rect x="850" y="148" width="5" height="2" fill="#ff0000"/>
<rect x="860" y="136" width="1" height="19" fill="#ff0000"/>
<rect x="858" y="136" width="5" height="13" fill="#ff0000"/>
<rect x="859" y="137" width="3" height="11" fill="#ff4500"/>
<rect x="868" y="117" width="1" height="24" fill="#ff0000"/>
<rect x="866" y="118" width="5" height="20" fill="#ff0000"/>
<rect x="867" y="119" width="3" height="18" fill="#ff4500"/>
<rect x="876" y="115" width="1" height="20" fill="#32cd32"/>
<rect x="874" y="118" width="5" height="7" fill="#32cd32"/>
<rect x="875" y="119" width="3" height="5" fill="#32cd32"/>
<rect x="884" y="111" width="1" height="15" fill="#ff0000"/>
<rect x="882" y="118" width="5" height="6" fill="#ff0000"/>
<rect x="883" y="119" width="3" height="4" fill="#ff4500"/>
<rect x="892" y="118" width="1" height="14" fill="#32cd32"/>
<rect x="890" y="118" width="5" height="10" fill="#32cd32"/>
<rect x="891" y="119" width="3" height="8" fill="#32cd32"/>
<rect x="900" y="124" width="1" height="3" fill="#ff0000"/>
<rect x="898" y="126" width="5" height="1" fill="#ff0000"/>
<rect x="908" y="103" width="1" height="23" fill="#ff0000"/>
<rect x="906" y="105" width="5" height="20" fill="#ff0000"/>
<rect x="907" y="106" width="3" height="18" fill="#ff4500"/>
<rect x="916" y="104" width="1" height="3" fill="#ff0000"/>
<rect x="914" y="105" width="5" height="1" fill="#ff0000"/>
</g>
<rect x="3" y="43" width="6" height="6" fill="#ff0000"/>
<rect x="5" y="45" width="2" height="2" fill="#ffffff"/>
<rect x="1160" y="43" width="6" height="6" fill="#ff0000"/>
<rect x="1162" y="45" width="2" height="2" fill="#ffffff"/>
<rect x="3" y="70" width="6" height="6" fill="#ff0000"/>
<rect x="5" y="72" width="2" height="2" fill="#ffffff"/>
<rect x="1160" y="70" width="6" height="6" fill="#ff0000"/>
<rect x="1162" y="72" width="2" height="2" fill="#ffffff"/>
<rect x="3" y="99" width="6" height="6" fill="#00ff00"/>
<rect x="5" y="101" width="2" height="2" fill="#ffffff"/>
<rect x="1160" y="99" width="6" height="6" fill="#00ff00"/>
<rect x="1162" y="101" width="2" height="2" fill="#ffffff"/>
<rect x="3" y="127" width="6" height="6" fill="#0000ff"/>
<rect x="5" y="129" width="2" height="2" fill="#ffffff"/>
<rect x="1160" y="127" width="6" height="6" fill="#0000ff"/>
<rect x="1162" y="129" width="2" height="2" fill="#ffffff"/>
<rect x="3" y="155" width="6" height="6" fill="#0000ff"/>
<rect x="5" y="157" width="2" height="2" fill="#ffffff"/>
<rect x="1160" y="155" width="6" height="6" fill="#0000ff"/>
<rect x="1162" y="157" width="2" height="2" fill="#ffffff"/>
<rect x="3" y="406" width="3" height="5" fill="#c0c0c0"/>
<rect x="11" y="404" width="3" height="7" fill="#c0c0c0"/>
<rect x="19" y="400" width="3" height="11" fill="#c0c0c0"/>
<rect x="27" y="398" width="3" height="13" fill="#c0c0c0"/>
<rect x="35" y="395" width="3" height="16" fill="#c0c0c0"/>
<rect x="43" y="393" width="3" height="18" fill="#c0c0c0"/>
<rect x="51" y="390" width="3" height="21" fill="#c0c0c0"/>
<rect x="59" y="387" width="3" height="24" fill="#c0c0c0"/>
<rect x="67" y="382" width="3" height="29" fill="#c0c0c0"/>
<rect x="75" y="380" width="3" height="31" fill="#c0c0c0"/>
<rect x="83" y="378" width="3" height="33" fill="#c0c0c0"/>
<rect x="91" y="377" width="3" height="34" fill="#c0c0c0"/>
<rect x="99" y="377" width="3" height="34" fill="#c0c0c0"/>
<rect x="107" y="376" width="3" height="35" fill="#c0c0c0"/>
<rect x="115" y="376" width="3" height="35" fill="#c0c0c0"/>
<rect x="123" y="379" width="3" height="32" fill="#c0c0c0"/>
<rect x="131" y="381" width="3" height="30" fill="#c0c0c0"/>
<rect x="139" y="381" width="3" height="30" fill="#c0c0c0"/>
<rect x="147" y="383" width="3" height="28" fill="#c0c0c0"/>
<rect x="155" y="386" width="3" height="25" fill="#c0c0c0"/>
<rect x="163" y="389" width="3" height="22" fill="#c0c0c0"/>
<rect x="171" y="392" width="3" height="19" fill="#c0c0c0"/>
<rect x="179" y="395" width="3" height="16" fill="#c0c0c0"/>
<rect x="187" y="395" width="3" height="16" fill="#c0c0c0"/>
<rect x="195" y="394" width="3" height="17" fill="#c0c0c0"/>
<rect x="203" y="395" width="3" height="16" fill="#c0c0c0"/>
<rect x="211" y="397" width="3" height="14" fill="#c0c0c0"/>
<rect x="219" y="399" width="3" height="12" fill="#c0c0c0"/>
<rect x="227" y="400" width="3" height="11" fill="#c0c0c0"/>
<rect x="235" y="401" width="3" height="10" fill="#c0c0c0"/>
<rect x="243" y="402" width="3" height="9" fill="#c0c0c0"/>
<rect x="251" y="402" width="3" height="9" fill="#c0c0c0"/>
<rect x="259" y="403" width="3" height="8" fill="#c0c0c0"/>
<rect x="267" y="403" width="3" height="8" fill="#c0c0c0"/>
<rect x="275" y="404" width="3" height="7" fill="#c0c0c0"/>
<rect x="283" y="402" width="3" height="9" fill="#c0c0c0"/>
<rect x="291" y="402" width="3" height="9" fill="#c0c0c0"/>
<rect x="299" y="401" width="3" height="10" fill="#c0c0c0"/>
<rect x="307" y="402" width="3" height="9" fill="#c0c0c0"/>
<rect x="315" y="402" width="3" height="9" fill="#c0c0c0"/>
<rect x="323" y="401" width="3" height="10" fill="#c0c0c0"/>
<rect x="331" y="401" width="3" height="10" fill="#c0c0c0"/>
<rect x="339" y="399" width="3" height="12" fill="#c0c0c0"/>
<rect x="347" y="397" width="3" height="14" fill="#c0c0c0"/>
<rect x="355" y="396" width="3" height="15" fill="#c0c0c0"/>
<rect x="363" y="395" width="3" height="16" fill="#c0c0c0"/>
<rect x="371" y="394" width="3" height="17" fill="#c0c0c0"/>
<rect x="379" y="393" width="3" height="18" fill="#c0c0c0"/>
<rect x="387" y="391" width="3" height="20" fill="#c0c0c0"/>
<rect x="395" y="388" width="3" height="23" fill="#c0c0c0"/>
<rect x="403" y="386" width="3" height="25" fill="#c0c0c0"/>
<rect x="411" y="383" width="3" height="28" fill="#c0c0c0"/>
<rect x="419" y="381" width="3" height="30" fill="#c0c0c0"/>
<rect x="427" y="377" width="3" height="34" fill="#c0c0c0"/>
<rect x="435" y="376" width="3" height="35" fill="#c0c0c0"/>
<rect x="443" y="373" width="3" height="38" fill="#c0c0c0"/>
<rect x="451" y="370" width="3" height="41" fill="#c0c0c0"/>
<rect x="459" y="369" width="3" height="42" fill="#c0c0c0"/>
<rect x="467" y="370" width="3" height="41" fill="#c0c0c0"/>
<rect x="475" y="371" width="3" height="40" fill="#c0c0c0"/>
<rect x="483" y="371" width="3" height="40" fill="#c0c0c0"/>
<rect x="491" y="370" width="3" height="41" fill="#c0c0c0"/>
<rect x="499" y="370" width="3" height="41" fill="#c0c0c0"/>
<rect x="507" y="372" width="3" height="39" fill="#c0c0c0"/>
<rect x="515" y="375" width="3" height="36" fill="#c0c0c0"/>
<rect x="523" y="378" width="3" height="33" fill="#c0c0c0"/>
<rect x="531" y="381" width="3" height="30" fill="#c0c0c0"/>
<rect x="539" y="383" width="3" height="28" fill="#c0c0c0"/>
<rect x="547" y="384" width="3" height="27" fill="#c0c0c0"/>
<rect x="555" y="384" width="3" height="27" fill="#c0c0c0"/>
<rect x="563" y="384" width="3" height="27" fill="#c0c0c0"/>
<rect x="571" y="384" width="3" height="27" fill="#c0c0c0"/>
<rect x="579" y="383" width="3" height="28" fill="#c0c0c0"/>
<rect x="587" y="384" width="3" height="27" fill="#c0c0c0"/>
<rect x="595" y="385" width="3" height="26" fill="#c0c0c0"/>
<rect x="603" y="389" width="3" height="22" fill="#c0c0c0"/>
<rect x="611" y="391" width="3" height="20" fill="#c0c0c0"/>
<rect x="619" y="393" width="3" height="18" fill="#c0c0c0"/>
<rect x="627" y="394" width="3" height="17" fill="#c0c0c0"/>
<rect x="635" y="395" width="3" height="16" fill="#c0c0c0"/>
<rect x="643" y="396" width="3" height="15" fill="#c0c0c0"/>
<rect x="651" y="396" width="3" height="15" fill="#c0c0c0"/>
<rect x="659" y="395" width="3" height="16" fill="#c0c0c0"/>
<rect x="667" y="394" width="3" height="17" fill="#c0c0c0"/>
<rect x="675" y="394" width="3" height="17" fill="#c0c0c0"/>
<rect x="683" y="396" width="3" height="15" fill="#c0c0c0"/>
<rect x="691" y="397" width="3" height="14" fill="#c0c0c0"/>
<rect x="699" y="399" width="3" height="12" fill="#c0c0c0"/>
<rect x="707" y="400" width="3" height="11" fill="#c0c0c0"/>
<rect x="715" y="402" width="3" height="9" fill="#c0c0c0"/>
<rect x="723" y="405" width="3" height="6" fill="#c0c0c0"/>
<rect x="731" y="406" width="3" height="5" fill="#c0c0c0"/>
<rect x="739" y="406" width="3" height="5" fill="#c0c0c0"/>
<rect x="747" y="407" width="3" height="4" fill="#c0c0c0"/>
<rect x="755" y="407" width="3" height="4" fill="#c0c0c0"/>
<rect x="763" y="406" width="3" height="5" fill="#c0c0c0"/>
<rect x="771" y="407" width="3" height="4" fill="#c0c0c0"/>
<rect x="779" y="408" width="3" height="3" fill="#c0c0c0"/>
<rect x="787" y="408" width="3" height="3" fill="#c0c0c0"/>
<rect x="795" y="408" width="3" height="3" fill="#c0c0c0"/>
<rect x="803" y="408" width="3" height="3" fill="#c0c0c0"/>
<rect x="811" y="410" width="3" height="1" fill="#c0c0c0"/>
<rect x="819" y="411" width="3" height="3" fill="#c0c0c0"/>
<rect x="827" y="411" width="3" height="6" fill="#c0c0c0"/>
<rect x="835" y="411" width="3" height="9" fill="#c0c0c0"/>
<rect x="843" y="411" width="3" height="12" fill="#c0c0c0"/>
<rect x="851" y="411" width="3" height="13" fill="#c0c0c0"/>
<rect x="859" y="411" width="3" height="14" fill="#c0c0c0"/>
<rect x="867" y="411" width="3" height="12" fill="#c0c0c0"/>
<rect x="875" y="411" width="3" height="11" fill="#c0c0c0"/>
<rect x="883" y="411" width="3" height="10" fill="#c0c0c0"/>
<rect x="891" y="411" width="3" height="10" fill="#c0c0c0"/>
<rect x="899" y="411" width="3" height="9" fill="#c0c0c0"/>
<rect x="907" y="411" width="3" height="7" fill="#c0c0c0"/>
<rect x="915" y="411" width="3" height="5" fill="#c0c0c0"/>
<path d="M497 371h24v1h-24zM483 372h14v1h-14zM521 372h8v1h-8zM479 373h4v1h-4zM529 373h6v1h-6zM475 374h4v1h-4zM535 374h4v1h-4zM471 375h4v1h-4zM539 375h6v1h-6zM467 376h4v1h-4zM545 376h8v1h-8zM463 377h4v1h-4zM553 377h6v1h-6zM121 378h32v1h-32zM459 378h4v1h-4zM559 378h4v1h-4zM115 379h6v1h-6zM153 379h6v1h-6zM457 379h2v1h-2zM563 379h6v1h-6zM111 380h4v1h-4zM159 380h4v1h-4zM454 380h3v1h-3zM569 380h6v1h-6zM107 381h4v1h-4zM163 381h6v1h-6zM449 381h5v1h-5zM575 381h4v1h-4zM103 382h4v1h-4zM169 382h5v1h-5zM443 382h6v1h-6zM579 382h6v1h-6zM99 383h4v1h-4zM174 383h3v1h-3zM439 383h4v1h-4zM585 383h8v1h-8zM97 384h2v1h-2zM177 384h2v1h-2zM435 384h4v1h-4zM593 384h22v1h-22zM94 385h3v1h-3zM179 385h4v1h-4zM433 385h2v1h-2zM615 385h4v1h-4zM91 386h3v1h-3zM183 386h4v1h-4zM430 386h3v1h-3zM619 386h4v1h-4zM89 387h2v1h-2zM187 387h6v1h-6zM427 387h3v1h-3zM623 387h4v1h-4zM86 388h3v1h-3zM193 388h6v1h-6zM423 388h4v1h-4zM627 388h6v1h-6zM83 389h3v1h-3zM199 389h4v1h-4zM419 389h4v1h-4zM633 389h8v1h-8zM81 390h2v1h-2zM203 390h4v1h-4zM415 390h4v1h-4zM641 390h8v1h-8zM78 391h3v1h-3zM207 391h4v1h-4zM411 391h4v1h-4zM649 391h8v1h-8zM75 392h3v1h-3zM211 392h6v1h-6zM407 392h4v1h-4zM657 392h6v1h-6zM73 393h2v1h-2zM217 393h6v1h-6zM401 393h6v1h-6zM663 393h4v1h-4zM70 394h3v1h-3zM223 394h4v1h-4zM395 394h6v1h-6zM667 394h22v1h-22zM67 395h3v1h-3zM227 395h6v1h-6zM391 395h4v1h-4zM689 395h8v1h-8zM65 396h2v1h-2zM233 396h8v1h-8zM385 396h6v1h-6zM697 396h16v1h-16zM62 397h3v1h-3zM241 397h8v1h-8zM377 397h8v1h-8zM713 397h8v1h-8zM59 398h3v1h-3zM249 398h8v1h-8zM369 398h8v1h-8zM721 398h8v1h-8zM55 399h4v1h-4zM257 399h8v1h-8zM361 399h8v1h-8zM729 399h8v1h-8zM49 400h6v1h-6zM265 400h8v1h-8zM353 400h8v1h-8zM737 400h6v1h-6zM43 401h6v1h-6zM273 401h8v1h-8zM345 401h8v1h-8zM743 401h4v1h-4zM39 402h4v1h-4zM281 402h64v1h-64zM747 402h6v1h-6zM35 403h4v1h-4zM753 403h8v1h-8zM31 404h4v1h-4zM761 404h8v1h-8zM25 405h6v1h-6zM769 405h8v1h-8zM19 406h6v1h-6zM777 406h8v1h-8zM15 407h4v1h-4zM785 407h32v1h-32zM11 408h4v1h-4zM817 408h8v1h-8zM7 409h4v1h-4zM825 409h8v1h-8zM4 410h3v1h-3zM833 410h6v1h-6zM839 411h4v1h-4zM843 412h4v1h-4zM847 413h4v1h-4zM851 414h4v1h-4zM855 415h4v1h-4zM859 416h6v1h-6zM865 417h6v1h-6zM871 418h4v1h-4zM875 419h6v1h-6zM881 420h8v1h-8zM913 420h3v1h-3zM889 421h24v1h-24z" fill="#ff0000" />
<line x1="5" y1="449.5" x2="1166" y2="449.5" stroke="#c0c0c0" stroke-width="1" stroke-dasharray="3 3"/>
<line x1="5" y1="473.5" x2="1166" y2="473.5" stroke="#c0c0c0" stroke-width="1" stroke-dasharray="3 3"/>
<path d="M427 440h2v1h-2zM68 441h1v1h-1zM425 441h2v1h-2zM429 441h2v1h-2zM66 442h2v1h-2zM69 442h2v1h-2zM422 442h3v1h-3zM431 442h2v1h-2zM449 442h4v1h-4zM64 443h2v1h-2zM71 443h2v1h-2zM417 443h5v1h-5zM433 443h1v1h-1zM443 443h6v1h-6zM453 443h2v1h-2zM62 444h2v1h-2zM73 444h1v1h-1zM105 444h4v1h-4zM409 444h8v1h-8zM434 444h2v1h-2zM439 444h4v1h-4zM455 444h1v1h-1zM57 445h5v1h-5zM74 445h2v1h-2zM81 445h8v1h-8zM97 445h8v1h-8zM109 445h2v1h-2zM401 445h8v1h-8zM436 445h3v1h-3zM456 445h1v1h-1zM51 446h6v1h-6zM76 446h5v1h-5zM89 446h8v1h-8zM111 446h1v1h-1zM393 446h8v1h-8zM457 446h2v1h-2zM491 446h10v1h-10zM47 447h4v1h-4zM112 447h1v1h-1zM387 447h6v1h-6zM459 447h1v1h-1zM487 447h4v1h-4zM501 447h1v1h-1zM579 447h2v1h-2zM41 448h6v1h-6zM113 448h2v1h-2zM385 448h2v1h-2zM460 448h11v1h-11zM483 448h4v1h-4zM502 448h1v1h-1zM577 448h2v1h-2zM581 448h1v1h-1zM25 449h16v1h-16zM115 449h1v1h-1zM382 449h3v1h-3zM471 449h4v1h-4zM479 449h4v1h-4zM503 449h2v1h-2zM574 449h3v1h-3zM582 449h1v1h-1zM19 450h6v1h-6zM116 450h1v1h-1zM377 450h5v1h-5zM475 450h4v1h-4zM505 450h1v1h-1zM569 450h5v1h-5zM583 450h1v1h-1zM17 451h2v1h-2zM117 451h2v1h-2zM139 451h2v1h-2zM339 451h12v1h-12zM363 451h14v1h-14zM506 451h1v1h-1zM561 451h8v1h-8zM584 451h1v1h-1zM14 452h3v1h-3zM119 452h2v1h-2zM137 452h2v1h-2zM141 452h2v1h-2zM337 452h2v1h-2zM351 452h4v1h-4zM359 452h4v1h-4zM507 452h1v1h-1zM553 452h8v1h-8zM585 452h1v1h-1zM665 452h8v1h-8zM11 453h3v1h-3zM121 453h1v1h-1zM134 453h3v1h-3zM143 453h2v1h-2zM334 453h3v1h-3zM355 453h4v1h-4zM508 453h10v1h-10zM539 453h14v1h-14zM586 453h1v1h-1zM657 453h8v1h-8zM673 453h4v1h-4zM7 454h4v1h-4zM122 454h2v1h-2zM129 454h5v1h-5zM145 454h1v1h-1zM195 454h3v1h-3zM284 454h2v1h-2zM299 454h3v1h-3zM331 454h3v1h-3zM518 454h3v1h-3zM537 454h2v1h-2zM587 454h1v1h-1zM593 454h4v1h-4zM652 454h5v1h-5zM677 454h2v1h-2zM4 455h3v1h-3zM124 455h5v1h-5zM146 455h2v1h-2zM191 455h4v1h-4zM198 455h2v1h-2zM282 455h2v1h-2zM286 455h3v1h-3zM297 455h2v1h-2zM302 455h2v1h-2zM327 455h4v1h-4zM521 455h2v1h-2zM534 455h3v1h-3zM588 455h5v1h-5zM597 455h2v1h-2zM650 455h2v1h-2zM679 455h1v1h-1zM148 456h5v1h-5zM188 456h3v1h-3zM200 456h2v1h-2zM280 456h2v1h-2zM289 456h2v1h-2zM294 456h3v1h-3zM304 456h2v1h-2zM321 456h6v1h-6zM523 456h11v1h-11zM599 456h2v1h-2zM633 456h6v1h-6zM648 456h2v1h-2zM680 456h1v1h-1zM153 457h6v1h-6zM186 457h2v1h-2zM202 457h2v1h-2zM278 457h2v1h-2zM291 457h3v1h-3zM306 457h2v1h-2zM313 457h8v1h-8zM601 457h1v1h-1zM627 457h6v1h-6zM639 457h4v1h-4zM646 457h2v1h-2zM681 457h2v1h-2zM763 457h4v1h-4zM159 458h4v1h-4zM185 458h1v1h-1zM204 458h3v1h-3zM235 458h6v1h-6zM249 458h8v1h-8zM273 458h5v1h-5zM308 458h5v1h-5zM602 458h2v1h-2zM609 458h8v1h-8zM623 458h4v1h-4zM643 458h3v1h-3zM683 458h1v1h-1zM697 458h6v1h-6zM759 458h4v1h-4zM767 458h4v1h-4zM163 459h6v1h-6zM183 459h2v1h-2zM207 459h4v1h-4zM217 459h8v1h-8zM231 459h4v1h-4zM241 459h8v1h-8zM257 459h16v1h-16zM604 459h5v1h-5zM617 459h6v1h-6zM684 459h13v1h-13zM703 459h4v1h-4zM753 459h6v1h-6zM771 459h3v1h-3zM787 459h18v1h-18zM908 459h8v1h-8zM169 460h8v1h-8zM181 460h2v1h-2zM211 460h6v1h-6zM225 460h6v1h-6zM707 460h6v1h-6zM739 460h14v1h-14zM774 460h3v1h-3zM785 460h2v1h-2zM805 460h2v1h-2zM906 460h2v1h-2zM177 461h4v1h-4zM713 461h5v1h-5zM735 461h4v1h-4zM777 461h2v1h-2zM782 461h3v1h-3zM807 461h1v1h-1zM904 461h2v1h-2zM718 462h3v1h-3zM731 462h4v1h-4zM779 462h3v1h-3zM808 462h1v1h-1zM868 462h5v1h-5zM881 462h6v1h-6zM902 462h2v1h-2zM721 463h2v1h-2zM727 463h4v1h-4zM809 463h2v1h-2zM866 463h2v1h-2zM873 463h8v1h-8zM887 463h4v1h-4zM897 463h5v1h-5zM723 464h4v1h-4zM811 464h1v1h-1zM865 464h1v1h-1zM891 464h6v1h-6zM812 465h2v1h-2zM863 465h2v1h-2zM814 466h2v1h-2zM861 466h2v1h-2zM816 467h2v1h-2zM860 467h1v1h-1zM818 468h2v1h-2zM858 468h2v1h-2zM820 469h3v1h-3zM856 469h2v1h-2zM823 470h4v1h-4zM833 470h6v1h-6zM854 470h2v1h-2zM827 471h6v1h-6zM839 471h4v1h-4zM849 471h5v1h-5zM843 472h6v1h-6z" fill="#1e90ff" />
<rect x="3" y="26" width="1164" height="1" fill="#000"/>
<rect x="3" y="363" width="1164" height="1" fill="#000"/>
<rect x="3" y="26" width="1" height="338" fill="#000"/>
<rect x="1166" y="26" width="1" height="338" fill="#000"/>
<rect x="3" y="365" width="1164" height="1" fill="#000"/>
<rect x="3" y="427" width="1164" height="1" fill="#000"/>
<rect x="3" y="365" width="1" height="63" fill="#000"/>
<rect x="1166" y="365" width="1" height="63" fill="#000"/>
<rect x="3" y="429" width="1164" height="1" fill="#000"/>
<rect x="3" y="492" width="1164" height="1" fill="#000"/>
<rect x="3" y="429" width="1" height="64" fill="#000"/>
<rect x="1166" y="429" width="1" height="64" fill="#000"/>
<rect x="3" y="43" width="6" height="6" fill="#ff0000"/>
<rect x="5" y="45" width="2" height="2" fill="#ffffff"/>
<rect x="1160" y="43" width="6" height="6" fill="#ff0000"/>
<rect x="1162" y="45" width="2" height="2" fill="#ffffff"/>
<rect x="3" y="70" width="6" height="6" fill="#ff0000"/>
<rect x="5" y="72" width="2" height="2" fill="#ffffff"/>
<rect x="1160" y="70" width="6" height="6" fill="#ff0000"/>
<rect x="1162" y="72" width="2" height="2" fill="#ffffff"/>
<rect x="3" y="99" width="6" height="6" fill="#00ff00"/>
<rect x="5" y="101" width="2" height="2" fill="#ffffff"/>
<rect x="1160" y="99" width="6" height="6" fill="#00ff00"/>
<rect x="1162" y="101" width="2" height="2" fill="#ffffff"/>
<rect x="3" y="127" width="6" height="6" fill="#0000ff"/>
<rect x="5" y="129" width="2" height="2" fill="#ffffff"/>
<rect x="1160" y="127" width="6" height="6" fill="#0000ff"/>
<rect x="1162" y="129" width="2" height="2" fill="#ffffff"/>
<rect x="3" y="155" width="6" height="6" fill="#0000ff"/>
<rect x="5" y="157" width="2" height="2" fill="#ffffff"/>
<rect x="1160" y="155" width="6" height="6" fill="#0000ff"/>
<rect x="1162" y="157" width="2" height="2" fill="#ffffff"/>
<rect x="1167" y="30" width="2" height="1" fill="#000"/>
<rect x="1167" y="63" width="2" height="1" fill="#000"/>
<rect x="1167" y="96" width="2" height="1" fill="#000"/>
<rect x="1167" y="129" width="2" height="1" fill="#000"/>
<rect x="1167" y="162" width="2" height="1" fill="#000"/>
<rect x="1167" y="195" width="2" height="1" fill="#000"/>
<rect x="1167" y="228" width="2" height="1" fill="#000"/>
<rect x="1167" y="261" width="2" height="1" fill="#000"/>
<rect x="1167" y="294" width="2" height="1" fill="#000"/>
<rect x="1167" y="327" width="2" height="1" fill="#000"/>
<rect x="1167" y="360" width="2" height="1" fill="#000"/>
<rect x="1167" y="411" width="2" height="1" fill="#000"/>
<rect x="4" y="493" width="1" height="3" fill="#000"/>
<rect x="68" y="493" width="1" height="3" fill="#000"/>
<rect x="132" y="493" width="1" height="3" fill="#000"/>
<rect x="196" y="493" width="1" height="3" fill="#000"/>
<rect x="260" y="493" width="1" height="3" fill="#000"/>
<rect x="324" y="493" width="1" height="3" fill="#000"/>
<rect x="388" y="493" width="1" height="3" fill="#000"/>
<rect x="452" y="493" width="1" height="3" fill="#000"/>
<rect x="516" y="493" width="1" height="3" fill="#000"/>
<rect x="580" y="493" width="1" height="3" fill="#000"/>
<rect x="644" y="493" width="1" height="3" fill="#000"/>
<rect x="708" y="493" width="1" height="3" fill="#000"/>
<rect x="772" y="493" width="1" height="3" fill="#000"/>
<rect x="836" y="493" width="1" height="3" fill="#000"/>
<rect x="900" y="493" width="1" height="3" fill="#000"/>
<rect x="0" y="513" width="1209" height="1" fill="#e6e6e6"/>
<rect x="0" y="514" width="1209" height="1" fill="#ffffff"/>
<rect x="0" y="515" width="1209" height="22" fill="#f0f0f0"/>
<rect x="0" y="535" width="1209" height="1" fill="#fafafa"/>
<rect x="0" y="536" width="1209" height="1" fill="#f4f4f4"/>
<rect x="0" y="515" width="6" height="1" fill="#000"/>
<rect x="112" y="515" width="1097" height="1" fill="#000"/>
<rect x="6" y="515" width="106" height="18" fill="#ffffff"/>
<rect x="5" y="515" width="1" height="19" fill="#000"/>
<rect x="112" y="515" width="1" height="19" fill="#000"/>
<rect x="5" y="533" width="108" height="1" fill="#000"/>
<rect x="0" y="516" width="1" height="18" fill="#696969"/>
<rect x="1" y="516" width="1" height="18" fill="#ffffff"/>
<rect x="2" y="516" width="3" height="18" fill="#e0e0e0"/>
<rect x="221" y="518" width="1" height="14" fill="#808080"/>
<rect x="329" y="518" width="1" height="14" fill="#808080"/>
<rect x="437" y="518" width="1" height="14" fill="#808080"/>
<rect x="549" y="518" width="1" height="14" fill="#808080"/>
<path d="M1185 521 L1185 527 L1181.5 524 Z" fill="#909090" shape-rendering="auto"/>
<path d="M1201 521 L1201 527 L1204.5 524 Z" fill="#909090" shape-rendering="auto"/>
<g>
<text class="g" x="0.32" y="14" font-size="9.4" fill="#3a3a3a" letter-spacing="-0.065">5</text>
<text class="g" x="14.93" y="14" font-size="9.4" fill="#3a3a3a" letter-spacing="0.123">M30</text>
<text class="g" x="45.93" y="14" font-size="9.4" fill="#3a3a3a" letter-spacing="0.409">H1</text>
<text class="g" x="73.13" y="14" font-size="9.4" fill="#3a3a3a" letter-spacing="1.130">H4</text>
<text class="g" x="102.03" y="14" font-size="9.4" fill="#3a3a3a" letter-spacing="0.409">D1</text>
<text class="g" x="130.06" y="14" font-size="9.4" fill="#3a3a3a" letter-spacing="0.489">W1</text>
<text class="g" x="156.23" y="14" font-size="9.4" fill="#3a3a3a" letter-spacing="1.215">MN</text>
<text class="g" x="7.70" y="38" font-size="9.8" fill="#000" letter-spacing="-0.210">EURUSD-,Daily</text>
<text class="g" x="80.66" y="38" font-size="9.8" fill="#000" letter-spacing="-0.327">1.17876</text>
<text class="g" x="117.16" y="38" font-size="9.8" fill="#000" letter-spacing="-0.433">1.17924</text>
<text class="g" x="152.96" y="38" font-size="9.8" fill="#000" letter-spacing="-0.415">1.17852</text>
<text class="g" x="189.16" y="38" font-size="9.8" fill="#000" letter-spacing="-0.383">1.17904</text>
<text class="g" x="7.80" y="378" font-size="9.8" fill="#000" letter-spacing="-0.122">MACD(12,26,9)</text>
<text class="g" x="77.07" y="378" font-size="9.8" fill="#000" letter-spacing="-0.377">-0.001427</text>
<text class="g" x="120.97" y="378" font-size="9.8" fill="#000" letter-spacing="-0.368">-0.003079</text>
<text class="g" x="7.10" y="442" font-size="9.8" fill="#000" letter-spacing="-0.192">RSI(14)</text>
<text class="g" x="42.91" y="442" font-size="9.8" fill="#000" letter-spacing="-0.352">54.0696</text>
<text class="g" x="1171.76" y="34" font-size="9.8" fill="#000" letter-spacing="-0.418">1.20580</text>
<text class="g" x="1171.76" y="67" font-size="9.8" fill="#000" letter-spacing="-0.418">1.19390</text>
<text class="g" x="1171.76" y="100" font-size="9.8" fill="#000" letter-spacing="-0.418">1.18200</text>
<text class="g" x="1171.76" y="133" font-size="9.8" fill="#000" letter-spacing="-0.418">1.17010</text>
<text class="g" x="1171.76" y="166" font-size="9.8" fill="#000" letter-spacing="-0.413">1.15855</text>
<text class="g" x="1171.76" y="199" font-size="9.8" fill="#000" letter-spacing="-0.413">1.14665</text>
<text class="g" x="1171.76" y="232" font-size="9.8" fill="#000" letter-spacing="-0.413">1.13475</text>
<text class="g" x="1171.76" y="265" font-size="9.8" fill="#000" letter-spacing="-0.418">1.12320</text>
<text class="g" x="1171.76" y="298" font-size="9.8" fill="#000" letter-spacing="-0.175">1.11130</text>
<text class="g" x="1171.76" y="331" font-size="9.8" fill="#000" letter-spacing="-0.418">1.09940</text>
<text class="g" x="1171.76" y="364" font-size="9.8" fill="#000" letter-spacing="-0.413">1.08785</text>
<text class="g" x="1169.72" y="376" font-size="9.8" fill="#000" letter-spacing="-0.353">0.014706</text>
<text class="g" x="1169.72" y="415" font-size="9.8" fill="#000" letter-spacing="-0.139">0.00</text>
<text class="g" x="1170.27" y="424" font-size="9.8" fill="#000" letter-spacing="-0.095">-0.005113</text>
<text class="g" x="1169.66" y="440" font-size="9.8" fill="#000" letter-spacing="-0.815">100</text>
<text class="g" x="1168.70" y="453" font-size="9.8" fill="#000" letter-spacing="-0.225">70</text>
<text class="g" x="1168.83" y="477" font-size="9.8" fill="#000" letter-spacing="-0.353">30</text>
<text class="g" x="1170.02" y="489" font-size="9.8" fill="#000" letter-spacing="-0.094">0</text>
<text class="g" x="2.71" y="505" font-size="9.8" fill="#000" letter-spacing="-0.140">26 May 2020</text>
<text class="g" x="67.28" y="505" font-size="9.8" fill="#000" letter-spacing="-0.412">4 Jun 2020</text>
<text class="g" x="130.76" y="505" font-size="9.8" fill="#000" letter-spacing="-0.373">14 Jun 2020</text>
<text class="g" x="195.01" y="505" font-size="9.8" fill="#000" letter-spacing="-0.419">23 Jun 2020</text>
<text class="g" x="259.01" y="505" font-size="9.8" fill="#000" letter-spacing="-0.363">2 Jul 2020</text>
<text class="g" x="322.86" y="505" font-size="9.8" fill="#000" letter-spacing="-0.316">12 Jul 2020</text>
<text class="g" x="387.11" y="505" font-size="9.8" fill="#000" letter-spacing="-0.371">21 Jul 2020</text>
<text class="g" x="451.23" y="505" font-size="9.8" fill="#000" letter-spacing="-0.373">30 Jul 2020</text>
<text class="g" x="515.45" y="505" font-size="9.8" fill="#000" letter-spacing="-0.218">9 Aug 2020</text>
<text class="g" x="578.96" y="505" font-size="9.8" fill="#000" letter-spacing="-0.233">18 Aug 2020</text>
<text class="g" x="643.01" y="505" font-size="9.8" fill="#000" letter-spacing="-0.188">27 Aug 2020</text>
<text class="g" x="707.21" y="505" font-size="9.8" fill="#000" letter-spacing="-0.342">6 Sep 2020</text>
<text class="g" x="771.56" y="505" font-size="9.8" fill="#000" letter-spacing="-0.417">15 Sep 2020</text>
<text class="g" x="835.01" y="505" font-size="9.8" fill="#000" letter-spacing="-0.342">24 Sep 2020</text>
<text class="g" x="899.48" y="505" font-size="9.8" fill="#000" letter-spacing="-0.250">4 Oct 2020</text>
<text x="15.77" y="530" font-size="12" fill="#000" letter-spacing="0.049">EURUSD-,Daily</text>
<text x="123.38" y="530" font-size="12" fill="#6e6e6e" letter-spacing="0.131">AUDUSD-,Daily</text>
<text x="232.48" y="530" font-size="12" fill="#6e6e6e" letter-spacing="0.029">USDCHF-,Daily</text>
<text x="339.88" y="530" font-size="12" fill="#6e6e6e" letter-spacing="0.090">USDCAD-,Daily</text>
<text x="448.48" y="530" font-size="12" fill="#6e6e6e" letter-spacing="0.251">USDCNH-,Daily</text>
</g>
<g>
<rect x="1168" y="100" width="41" height="11" fill="#000"/>
<text class="g" stroke="#fff" stroke-width="0.3" x="1171.76" y="109" font-size="9.8" fill="#fff" letter-spacing="-0.433">1.17904</text>
<rect x="1168" y="40" width="41" height="11" fill="#ff0000"/>
<text class="g" stroke="#fff" stroke-width="0.3" x="1171.76" y="49" font-size="9.8" fill="#fff" letter-spacing="-0.410">1.20013</text>
<rect x="1168" y="67" width="41" height="11" fill="#ff0000"/>
<text class="g" stroke="#fff" stroke-width="0.3" x="1171.76" y="76" font-size="9.8" fill="#fff" letter-spacing="-0.410">1.19028</text>
<rect x="1168" y="96" width="41" height="11" fill="#00ff00"/>
<text class="g" stroke="#fff" stroke-width="0.3" x="1171.76" y="105" font-size="9.8" fill="#fff" letter-spacing="-0.410">1.18008</text>
<rect x="1168" y="124" width="41" height="11" fill="#0000ff"/>
<text class="g" stroke="#fff" stroke-width="0.3" x="1171.76" y="133" font-size="9.8" fill="#fff" letter-spacing="-0.399">1.17012</text>
<rect x="1168" y="152" width="41" height="11" fill="#0000ff"/>
<text class="g" stroke="#fff" stroke-width="0.3" x="1171.76" y="161" font-size="9.8" fill="#fff" letter-spacing="-0.399">1.16002</text>
</g>
</svg>
</body></html>
